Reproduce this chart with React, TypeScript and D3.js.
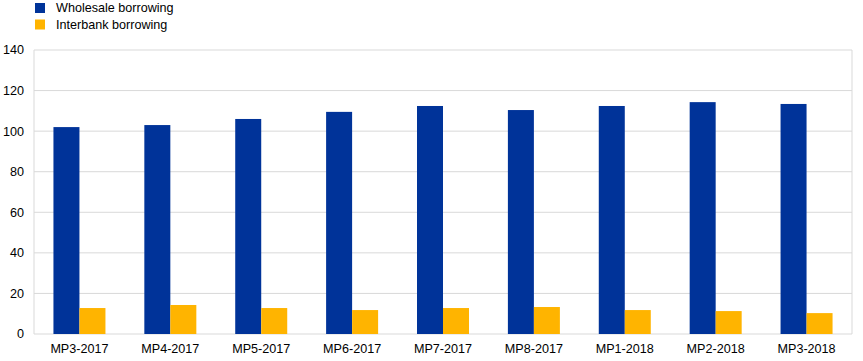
import React from "react";
import * as d3 from "d3";

const categories = ["MP3-2017", "MP4-2017", "MP5-2017", "MP6-2017", "MP7-2017", "MP8-2017", "MP1-2018", "MP2-2018", "MP3-2018"];
const wholesale = [102, 103, 106, 109.5, 112.4, 110.4, 112.4, 114.3, 113.4];
const interbank = [12.8, 14.3, 12.8, 11.8, 12.8, 13.3, 11.8, 11.3, 10.3];
const yTicks = [0, 20, 40, 60, 80, 100, 120, 140];
const seriesNames = ["Wholesale borrowing", "Interbank borrowing"];
const colors = ["#003399", "#FFB400"];

export default function App() {
  const W = 863, H = 361;
  const left = 34, right = 852, top = 50, bottom = 334;
  const x = d3.scaleBand<string>().domain(categories).range([left, right]).paddingInner(0).paddingOuter(0);
  const y = d3.scaleLinear().domain([0, 140]).range([bottom, top]);
  const barW = 26;
  const font = "Arial, 'Liberation Sans', sans-serif";
  const fs = 12.6;
  const series = [wholesale, interbank];
  return (
    <svg width={W} height={H} style={{ position: "absolute", left: 0, top: 0, background: "#fff" }} fontFamily={font}>
      {yTicks.map((t) => (
        <g key={t}>
          <line x1={left} x2={right} y1={y(t)} y2={y(t)} stroke="#d9d9d9" strokeWidth={1} />
          <text x={left - 10} y={y(t)} dy="0.35em" textAnchor="end" fontSize={fs} fill="#000">{t}</text>
        </g>
      ))}
      <line x1={left} x2={left} y1={top} y2={bottom} stroke="#d9d9d9" />
      <line x1={right} x2={right} y1={top} y2={bottom} stroke="#d9d9d9" />
      {categories.map((c, i) => {
        const cx = (x(c) as number) + x.bandwidth() / 2;
        return (
          <g key={c}>
            {series.map((s, j) => (
              <rect key={j} x={cx - barW + j * barW} y={y(s[i])} width={barW} height={y(0) - y(s[i])} fill={colors[j]} />
            ))}
            <text x={cx} y={353} textAnchor="middle" fontSize={fs} fill="#000">{c}</text>
          </g>
        );
      })}
      {seriesNames.map((n, j) => (
        <g key={n}>
          <rect x={35} y={3 + j * 16.5} width={10} height={10} fill={colors[j]} />
          <text x={56} y={8 + j * 16.5} dy="0.35em" fontSize={fs} fill="#000">{n}</text>
        </g>
      ))}
    </svg>
  );
}
